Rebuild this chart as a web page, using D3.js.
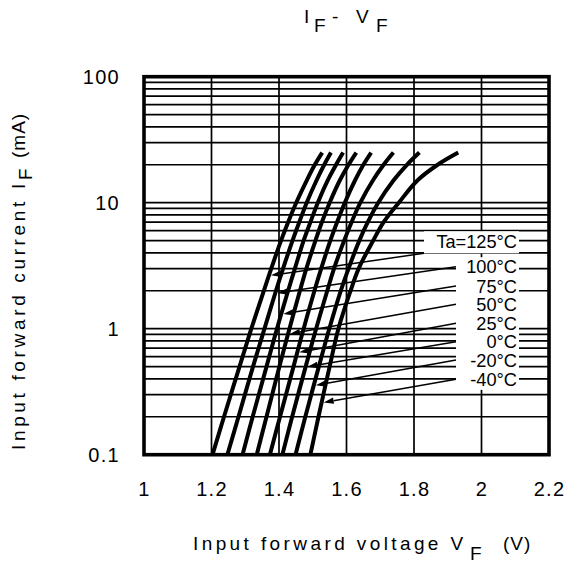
<!DOCTYPE html>
<html><head><meta charset="utf-8">
<script src="https://cdn.jsdelivr.net/npm/d3@7"></script>
<style>
body{margin:0;background:#fff;}
svg{display:block;}
text{font-family:"Liberation Sans", Arial, Helvetica, sans-serif;fill:#000;}
</style>
</head><body>
<svg id="chart" width="566" height="563"></svg>
<script>
// ---- data ----
const currents = [0.1, 0.2, 0.5, 1, 2, 3, 5, 7, 10, 15, 20, 25]; // mA
const temps = ["125", "100", "75", "50", "25", "0", "-20", "-40"];
const vf125 = [1.203, 1.237, 1.283, 1.318, 1.355, 1.377, 1.406, 1.427, 1.451, 1.482, 1.506, 1.528];
const vf100 = [1.247, 1.280, 1.323, 1.357, 1.391, 1.412, 1.440, 1.460, 1.482, 1.511, 1.534, 1.554];
const vf75  = [1.292, 1.322, 1.363, 1.394, 1.427, 1.447, 1.473, 1.493, 1.515, 1.544, 1.569, 1.590];
const vf50  = [1.334, 1.363, 1.401, 1.431, 1.462, 1.481, 1.508, 1.527, 1.550, 1.580, 1.606, 1.629];
const vf25  = [1.373, 1.403, 1.443, 1.473, 1.505, 1.525, 1.552, 1.572, 1.595, 1.625, 1.650, 1.673];
const vf0   = [1.410, 1.439, 1.479, 1.510, 1.543, 1.563, 1.593, 1.615, 1.641, 1.678, 1.710, 1.739];
const vfm20 = [1.449, 1.478, 1.518, 1.549, 1.583, 1.606, 1.638, 1.663, 1.694, 1.739, 1.779, 1.816];
const vfm40 = [1.493, 1.517, 1.550, 1.576, 1.612, 1.636, 1.679, 1.710, 1.755, 1.810, 1.870, 1.931];
const series = [vf125, vf100, vf75, vf50, vf25, vf0, vfm20, vfm40];

const labelTexts = ["Ta=125°C", "100°C", "75°C", "50°C", "25°C", "0°C", "-20°C", "-40°C"];
const arrowCurrents = [2.65, 1.92, 1.31, 0.91, 0.65, 0.50, 0.355, 0.26];

const xTicks = [1, 1.2, 1.4, 1.6, 1.8, 2, 2.2];
const xTickLabels = ["1", "1.2", "1.4", "1.6", "1.8", "2", "2.2"];
const yTicks = [0.1, 1, 10, 100];
const yTickLabels = ["0.1", "1", "10", "100"];

// ---- layout ----
const L = 144, R = 549, T = 76.7, B = 454.7;
const svg = d3.select("#chart");
const x = d3.scaleLinear().domain([1, 2.2]).range([L, R]);
const y = d3.scaleLog().domain([0.1, 100]).range([B, T]);

// grid
const grid = svg.append("g");
grid.selectAll("line.h").data(y.ticks()).enter().append("line")
  .attr("x1", L).attr("x2", R)
  .attr("y1", d => y(d)).attr("y2", d => y(d))
  .attr("stroke", "#000").attr("stroke-width", 1.7);
grid.selectAll("line.v").data(xTicks).enter().append("line")
  .attr("y1", T).attr("y2", B)
  .attr("x1", d => x(d)).attr("x2", d => x(d))
  .attr("stroke", "#000").attr("stroke-width", 1.7);

// frame
svg.append("rect").attr("x", L).attr("y", T).attr("width", R - L).attr("height", B - T)
  .attr("fill", "none").attr("stroke", "#000").attr("stroke-width", 3.6);

// axes tick labels
const ax = svg.append("g").attr("transform", `translate(0,${B})`)
  .call(d3.axisBottom(x).tickValues(xTicks).tickFormat((d, i) => xTickLabels[i]).tickSize(0).tickPadding(0));
ax.select(".domain").remove();
ax.selectAll("text").attr("y", 41.5).attr("dy", 0).attr("font-size", 20).attr("letter-spacing", 1.3)
  .attr("font-family", '"Liberation Sans", Arial, sans-serif').attr("fill", "#000");

const ay = svg.append("g").attr("transform", `translate(${L},0)`)
  .call(d3.axisLeft(y).tickValues(yTicks).tickFormat((d, i) => yTickLabels[i]).tickSize(0).tickPadding(0));
ay.select(".domain").remove();
ay.selectAll("text").attr("x", -24).attr("dy", "0.36em").attr("font-size", 20).attr("letter-spacing", 1.3)
  .attr("font-family", '"Liberation Sans", Arial, sans-serif').attr("fill", "#000");

// labels with white boxes
const labelY = [241.7, 266.7, 286, 304.3, 323.3, 341.7, 360, 379.3];
const lab = svg.append("g");
const boxes = [];
labelTexts.forEach((t, i) => {
  const tx = lab.append("text").attr("x", 517).attr("y", labelY[i]).attr("dy", "0.36em")
    .attr("text-anchor", "end").attr("font-size", 18.2).text(t);
  const bb = tx.node().getBBox();
  boxes.push(bb);
});
labelTexts.forEach((t, i) => {
  const bb = boxes[i];
  const x0 = i === 0 ? 424 : 456;
  lab.insert("rect", "text").attr("x", x0).attr("y", bb.y - (i === 0 ? 1 : 0))
    .attr("width", 519 - x0).attr("height", bb.height + (i === 0 ? 2 : 0)).attr("fill", "#fff");
});

// curves
const line = d3.line().x(d => x(d[0])).y(d => y(d[1])).curve(d3.curveCatmullRom.alpha(0.5));
svg.append("g").selectAll("path").data(series).enter().append("path")
  .attr("d", s => line(s.map((v, j) => [v, currents[j]])))
  .attr("fill", "none").attr("stroke", "#000").attr("stroke-width", 4)
  .attr("stroke-linecap", "butt");

// arrows
function vAt(s, I) {
  for (let j = 0; j < currents.length - 1; j++) {
    if (I >= currents[j] && I <= currents[j + 1]) {
      const t = (Math.log(I) - Math.log(currents[j])) / (Math.log(currents[j + 1]) - Math.log(currents[j]));
      return s[j] + t * (s[j + 1] - s[j]);
    }
  }
  return s[0];
}
const arr = svg.append("g");
series.forEach((s, i) => {
  const bb = boxes[i];
  const sx = i === 0 ? 424 : 456;
  const sy = i === 0 ? bb.y + bb.height + 1 : labelY[i];
  const tx = x(vAt(s, arrowCurrents[i])) + 2, ty = y(arrowCurrents[i]);
  const dx = tx - sx, dy = ty - sy, len = Math.hypot(dx, dy);
  const ux = dx / len, uy = dy / len;
  const hl = 10, hw = 3.2;
  const bx = tx - ux * hl, by = ty - uy * hl;
  arr.append("line").attr("x1", sx).attr("y1", sy).attr("x2", bx).attr("y2", by)
    .attr("stroke", "#000").attr("stroke-width", 1.5);
  arr.append("path")
    .attr("d", `M${tx},${ty}L${bx - uy * hw},${by + ux * hw}L${bx + uy * hw},${by - ux * hw}Z`)
    .attr("fill", "#000");
});

// title
const title = svg.append("g").attr("font-size", 19);
title.append("text").attr("x", 304).attr("y", 23).text("I");
title.append("text").attr("x", 314).attr("y", 32).text("F");
title.append("text").attr("x", 332).attr("y", 23).text("-");
title.append("text").attr("x", 356).attr("y", 23).text("V");
title.append("text").attr("x", 376).attr("y", 32).text("F");

// x axis title
const xt = svg.append("g").attr("font-size", 19);
xt.append("text").attr("x", 193).attr("y", 550).attr("letter-spacing", 3.4).text("Input forward voltage V");
xt.append("text").attr("x", 470).attr("y", 560).text("F");
xt.append("text").attr("x", 503).attr("y", 550).attr("letter-spacing", 1).text("(V)");

// y axis title
const yt = svg.append("g").attr("font-size", 19).attr("transform", "translate(25,450) rotate(-90)");
yt.append("text").attr("x", 0).attr("y", 0).attr("letter-spacing", 3.65).text("Input forward current I");
yt.append("text").attr("x", 270).attr("y", 7).text("F");
yt.append("text").attr("x", 292).attr("y", 0).attr("letter-spacing", 1).text("(mA)");
</script>
</body></html>
